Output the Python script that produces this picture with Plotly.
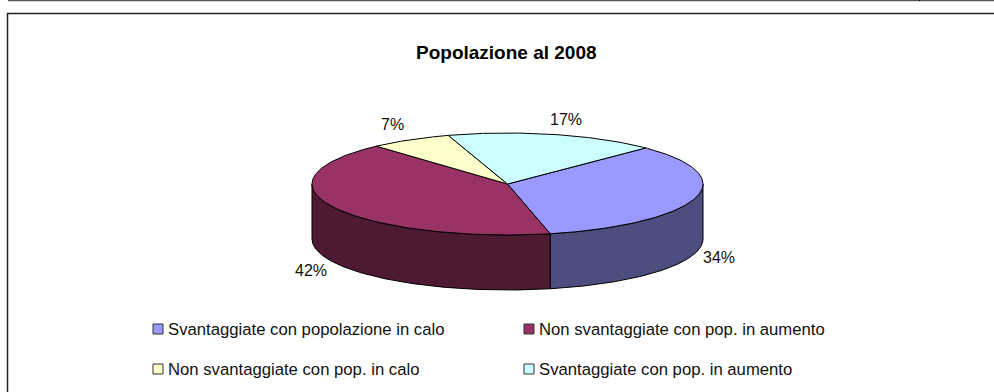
import numpy as np
import plotly.graph_objects as go

title = "Popolazione al 2008"
categories = ["Svantaggiate con popolazione in calo", "Non svantaggiate con pop. in aumento",
              "Non svantaggiate con pop. in calo", "Svantaggiate con pop. in aumento"]
values = [34, 41.8, 6.8, 17.4]
top_colors = ["#9999FF", "#993366", "#FFFFCC", "#CCFFFF"]
wall_colors = ["#4D4D80", "#4D1933", "#808066", "#668080"]

# pie geometry, in window pixels
CX, CY, RX, RY, DEPTH = 507.5, 184.0, 195.5, 51.0, 55.0
START = 45.0
label_pos = [(719, 257), (310.5, 270.5), (392.5, 124), (566, 119)]
legend_pos = [(158, 329), (529, 329), (158, 369), (529, 369)]


def ell(t):
    r = np.radians(t)
    return CX + RX * np.sin(r), CY - RY * np.cos(r)


fig = go.Figure()
edges = np.cumsum([0] + values) / sum(values) * 360 + START

# side walls (only the front half, angles 90..270)
for i, c in enumerate(categories):
    a, b = max(edges[i], 90), min(edges[i + 1], 270)
    if a >= b:
        continue
    t = np.linspace(a, b, 120)
    x, y = ell(t)
    fig.add_trace(go.Scatter(x=np.r_[x, x[::-1], x[0]], y=np.r_[y, y[::-1] + DEPTH, y[0]],
                             mode="lines", fill="toself", fillcolor=wall_colors[i],
                             line=dict(color="black", width=1), showlegend=False, hoverinfo="skip"))

# top faces
for i, c in enumerate(categories):
    t = np.linspace(edges[i], edges[i + 1], 160)
    x, y = ell(t)
    fig.add_trace(go.Scatter(x=np.r_[CX, x, CX], y=np.r_[CY, y, CY],
                             mode="lines", fill="toself", fillcolor=top_colors[i],
                             line=dict(color="black", width=1), showlegend=False,
                             name=c, hoverinfo="name"))

# percent labels
for v, (x, y) in zip(values, label_pos):
    fig.add_annotation(x=x, y=y, text=f"{v:.0f}%", showarrow=False, xanchor="center", yanchor="middle",
                       font=dict(family="Liberation Sans, Arial", size=16, color="#111111"))

# legend
for c, col, (x, y) in zip(categories, top_colors, legend_pos):
    fig.add_trace(go.Scatter(x=[x], y=[y], mode="markers", name=c,
                             marker=dict(symbol="square", size=10, color=col, line=dict(color="#333333", width=1)),
                             showlegend=False, hoverinfo="skip", cliponaxis=False))
    fig.add_annotation(x=x + 9, y=y, text=c, showarrow=False, xanchor="left", yanchor="middle",
                       borderpad=0,
                       font=dict(family="Liberation Sans, Arial", size=16.7, color="#111111"))

fig.update_layout(
    width=994, height=392, margin=dict(l=0, r=0, t=0, b=0), autosize=False,
    paper_bgcolor="white", plot_bgcolor="white", showlegend=False,
    xaxis=dict(range=[0, 994], visible=False, fixedrange=True),
    yaxis=dict(range=[392, 0], visible=False, fixedrange=True),
    shapes=[
        dict(type="line", x0=7, x1=994, y0=13.5, y1=13.5, line=dict(color="#222222", width=1.5)),
        dict(type="line", x0=7.5, x1=7.5, y0=13, y1=392, line=dict(color="#222222", width=1.5)),
        dict(type="line", x0=8, x1=994, y0=0.5, y1=0.5, line=dict(color="#555555", width=1.5)),
        dict(type="line", x0=919.5, x1=919.5, y0=0, y1=1, line=dict(color="black", width=1)),
    ],
    annotations=list(fig.layout.annotations) + [
        dict(x=506.5, y=52, text=f"<b>{title}</b>", showarrow=False, xanchor="center", yanchor="middle",
             font=dict(family="Liberation Sans, Arial", size=19, color="black"))
    ],
)

fig.write_html("out.html", config=dict(displayModeBar=False), post_script="document.body.style.margin='0';")
